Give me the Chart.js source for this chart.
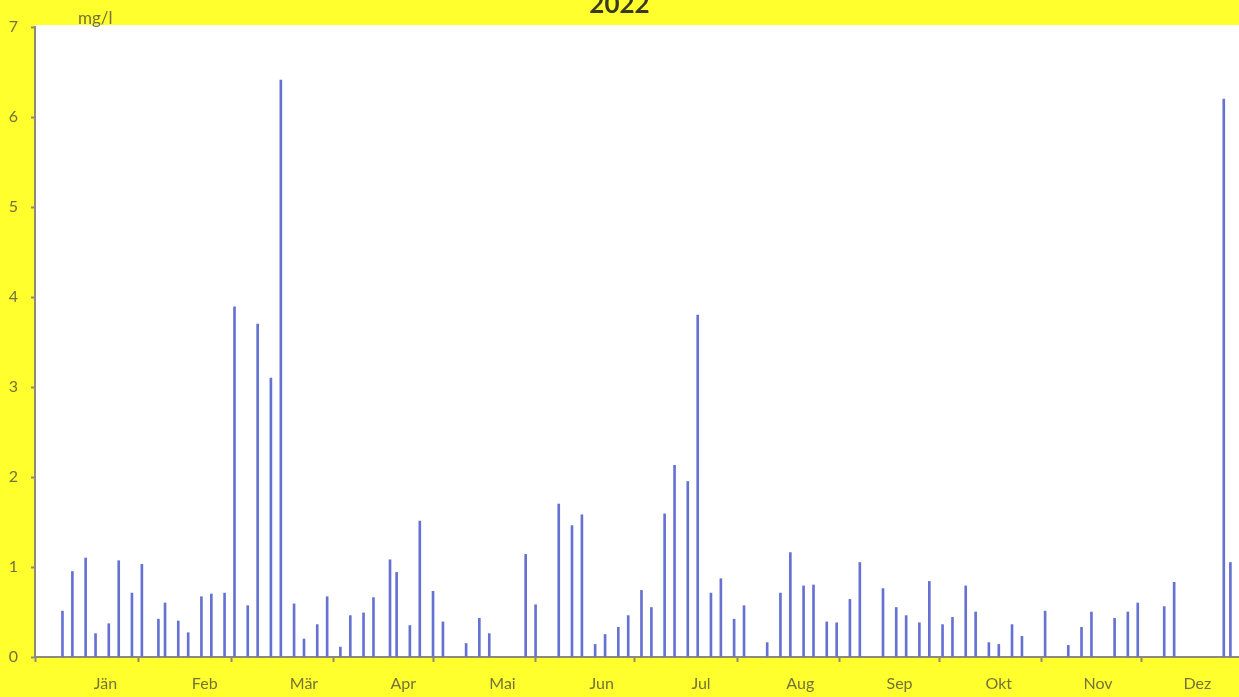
<!DOCTYPE html>
<html>
<head>
<meta charset="utf-8">
<script src="https://cdn.jsdelivr.net/npm/chart.js@4/dist/chart.umd.min.js"></script>
<style>
html,body{margin:0;padding:0;background:#ffff2e;overflow:hidden;}
#wrap{width:1239px;height:697px;position:relative;}
</style>
</head>
<body>
<div id="wrap"><canvas id="c" width="1239" height="697"></canvas></div>
<script>
// Sampling days (day of year 2022, 1 = 1 Jan)
const dayOfYear = [
  9,12,16,19,23,26,30,33,38,40,
  44,47,51,54,58,61,65,68,72,75,
  79,82,86,89,93,96,100,103,108,110,
  114,117,121,124,131,135,138,149,152,159,
  163,166,170,173,177,180,184,187,191,194,
  198,201,205,208,212,215,222,226,229,233,
  236,240,243,247,250,257,261,264,268,271,
  275,278,282,285,289,292,296,299,306,313,
  317,320,327,331,334,342,345,360,362
];
// Concentration in mg/l
const concentration = [
  0.51,0.95,1.10,0.26,0.37,1.07,0.71,1.03,0.42,0.60,
  0.40,0.27,0.67,0.70,0.71,3.89,0.57,3.70,3.10,6.41,
  0.59,0.20,0.36,0.67,0.11,0.46,0.49,0.66,1.08,0.94,
  0.35,1.51,0.73,0.39,0.15,0.43,0.26,1.14,0.58,1.70,
  1.46,1.58,0.14,0.25,0.33,0.46,0.74,0.55,1.59,2.13,
  1.95,3.80,0.71,0.87,0.42,0.57,0.16,0.71,1.16,0.79,
  0.80,0.39,0.38,0.64,1.05,0.76,0.55,0.46,0.38,0.84,
  0.36,0.44,0.79,0.50,0.16,0.14,0.36,0.23,0.51,0.13,
  0.33,0.50,0.43,0.50,0.60,0.56,0.83,6.20,1.05
];
const monthLabels = ['Jän','Feb','Mär','Apr','Mai','Jun','Jul','Aug','Sep','Okt','Nov','Dez'];
const monthLabelDays = [22,52,82,112,142,172,202,232,262,292,322,352];
const monthStartDays = [1,32,60,91,121,152,182,213,244,274,305,335];
const yTickValues = [0,1,2,3,4,5,6,7];
const chartTitle = '2022';
const unitLabel = 'mg/l';

const AXIS_GRAY = '#8d8b78';
const TEXT_COL = '#74713a';
const FONT = 'Lato, "Open Sans", sans-serif';

const points = dayOfYear.map((d, i) => ({x: d, y: concentration[i]}));

const bgPlugin = {
  id: 'bg',
  beforeDraw(chart) {
    const {ctx, chartArea: a} = chart;
    ctx.save();
    ctx.fillStyle = '#ffff2e';
    ctx.fillRect(0, 0, chart.width, chart.height);
    ctx.fillStyle = '#ffffff';
    ctx.fillRect(a.left, a.top - 2, a.right - a.left, a.bottom - a.top + 2);
    ctx.restore();
  }
};
const unitPlugin = {
  id: 'unit',
  afterDraw(chart) {
    const ctx = chart.ctx;
    ctx.save();
    ctx.font = '17px ' + FONT;
    ctx.fillStyle = TEXT_COL;
    ctx.textAlign = 'left';
    ctx.textBaseline = 'middle';
    ctx.fillText(unitLabel, 78, 19);
    ctx.restore();
  }
};

new Chart(document.getElementById('c'), {
  type: 'bar',
  data: {
    datasets: [{
      data: points,
      backgroundColor: '#6672d2',
      borderWidth: 0,
      barThickness: 2
    }]
  },
  options: {
    responsive: false,
    animation: false,
    devicePixelRatio: 1,
    layout: {padding: {left: 0, right: 0, top: 0, bottom: 0}},
    plugins: {
      legend: {display: false},
      tooltip: {enabled: false},
      title: {
        display: true,
        text: chartTitle,
        color: '#3a3a22',
        font: {family: FONT, size: 26, weight: 'bold'},
        padding: {top: -11, bottom: 6.8}
      }
    },
    scales: {
      x: {
        type: 'linear',
        min: 0.7,
        max: 364.6,
        offset: false,
        afterBuildTicks(scale) {
          const t = monthStartDays.map(v => ({value: v}))
            .concat(monthLabelDays.map(v => ({value: v})));
          t.sort((a, b) => a.value - b.value);
          scale.ticks = t;
        },
        afterFit(scale) { scale.height = 40; },
        ticks: {
          autoSkip: false,
          maxRotation: 0,
          minRotation: 0,
          padding: 12,
          color: TEXT_COL,
          font: {family: FONT, size: 16},
          callback(value) {
            const i = monthLabelDays.indexOf(value);
            return i >= 0 ? monthLabels[i] : '';
          }
        },
        grid: {
          display: true,
          offset: false,
          drawOnChartArea: false,
          drawTicks: true,
          tickLength: 5,
          tickWidth: 2,
          tickColor: (ctx) => (ctx.tick && monthStartDays.includes(ctx.tick.value)) ? AXIS_GRAY : 'rgba(0,0,0,0)'
        },
        border: {display: true, color: AXIS_GRAY, width: 2}
      },
      y: {
        min: 0,
        max: 7,
        afterBuildTicks(scale) { scale.ticks = yTickValues.map(v => ({value: v})); },
        afterFit(scale) { scale.width = 35; },
        ticks: {
          padding: 13,
          color: TEXT_COL,
          font: {family: FONT, size: 16}
        },
        grid: {
          display: true,
          offset: false,
          drawOnChartArea: false,
          drawTicks: true,
          tickLength: 4,
          tickWidth: 2,
          tickColor: AXIS_GRAY
        },
        border: {display: true, color: AXIS_GRAY, width: 2}
      }
    }
  },
  plugins: [bgPlugin, unitPlugin]
});
</script>
</body>
</html>
